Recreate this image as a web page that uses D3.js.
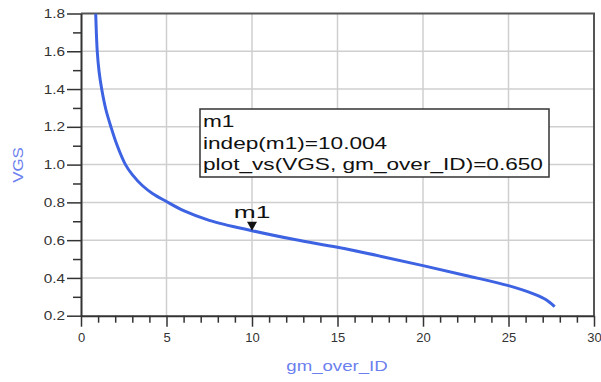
<!DOCTYPE html>
<html>
<head>
<meta charset="utf-8">
<script src="https://cdn.jsdelivr.net/npm/d3@7"></script>
<style>
  body { margin: 0; background: #fff; }
  svg { display: block; font-family: "Liberation Sans", Arial, sans-serif; }
</style>
</head>
<body>
<svg id="chart"></svg>
<script>
// curve data
var gmOverId = [0.86, 0.95, 1.06, 1.21, 1.45, 1.75, 2.1, 2.6, 3.0, 3.6, 4.2, 4.95, 6.0, 7.5, 10.0, 12.5, 15.0, 17.5, 20.0, 22.5, 25.0, 26.5, 27.2, 27.7];
var vgs = [1.80, 1.60, 1.49, 1.40, 1.293, 1.20, 1.105, 1.00, 0.947, 0.888, 0.846, 0.807, 0.756, 0.705, 0.650, 0.603, 0.562, 0.515, 0.465, 0.413, 0.359, 0.314, 0.284, 0.248];
var xTicks = [0, 5, 10, 15, 20, 25, 30];
var yTicks = [0.2, 0.4, 0.6, 0.8, 1.0, 1.2, 1.4, 1.6, 1.8];
var markerX = 10.0, markerY = 0.650;
var markerLines = ["m1", "indep(m1)=10.004", "plot_vs(VGS, gm_over_ID)=0.650"];

var W = 601, H = 382;
var pLeft = 81, pRight = 594, pTop = 13.5, pBottom = 315.7;

var svg = d3.select('#chart').attr('width', W).attr('height', H);

var x = d3.scaleLinear().domain([0, 30]).range([pLeft, pRight]);
var y = d3.scaleLinear().domain([0.2, 1.8]).range([pBottom, pTop]);

// stretch text horizontally like the original screenshot
function stretch(sel, k) {
  sel.each(function() {
    var w = this.getComputedTextLength();
    this.setAttribute('textLength', w * k);
    this.setAttribute('lengthAdjust', 'spacingAndGlyphs');
  });
}

// grid
svg.append('g').selectAll('line').data(xTicks.slice(1, -1)).join('line')
  .attr('x1', d => x(d)).attr('x2', d => x(d)).attr('y1', pTop).attr('y2', pBottom)
  .attr('stroke', '#cfcfcf').attr('stroke-width', 1.5);
svg.append('g').selectAll('line').data(yTicks.slice(1, -1)).join('line')
  .attr('y1', d => y(d)).attr('y2', d => y(d)).attr('x1', pLeft).attr('x2', pRight)
  .attr('stroke', '#cfcfcf').attr('stroke-width', 1.5);

// top / right frame
svg.append('path')
  .attr('d', 'M' + pLeft + ',' + pTop + 'H' + pRight + 'V' + pBottom)
  .attr('fill', 'none').attr('stroke', '#555').attr('stroke-width', 2);

// minor ticks
var xMinor = d3.range(0, 31, 1).filter(v => v % 5 !== 0);
svg.append('g').attr('transform', 'translate(0,' + pBottom + ')')
  .call(d3.axisBottom(x).tickValues(xMinor).tickSize(7).tickFormat(''))
  .call(g => g.select('.domain').remove())
  .selectAll('line').attr('stroke', '#333').attr('stroke-width', 1.5);
var yMinor = d3.range(0.3, 1.8, 0.2);
svg.append('g').attr('transform', 'translate(' + pLeft + ',0)')
  .call(d3.axisLeft(y).tickValues(yMinor).tickSize(8).tickFormat(''))
  .call(g => g.select('.domain').remove())
  .selectAll('line').attr('stroke', '#333').attr('stroke-width', 1.5);

// major axes
var gx = svg.append('g').attr('transform', 'translate(0,' + pBottom + ')')
  .call(d3.axisBottom(x).tickValues(xTicks).tickSize(11).tickSizeOuter(0).tickPadding(6).tickFormat(d3.format('d')));
gx.attr('font-size', 13).attr('font-family', 'Liberation Sans, Arial, sans-serif');
gx.select('.domain').attr('stroke', '#333').attr('stroke-width', 2);
gx.selectAll('line').attr('stroke', '#333').attr('stroke-width', 1.5);
gx.selectAll('text').attr('fill', '#333');

var gy = svg.append('g').attr('transform', 'translate(' + pLeft + ',0)')
  .call(d3.axisLeft(y).tickValues(yTicks).tickSize(14).tickSizeOuter(0).tickPadding(2).tickFormat(d3.format('.1f')));
gy.attr('font-size', 13).attr('font-family', 'Liberation Sans, Arial, sans-serif');
gy.select('.domain').attr('stroke', '#333').attr('stroke-width', 2);
gy.selectAll('line').attr('stroke', '#333').attr('stroke-width', 1.5);
gy.selectAll('text').attr('fill', '#333').call(stretch, 1.18);

// axis titles
svg.append('text').attr('x', 337).attr('y', 371).attr('text-anchor', 'middle')
  .attr('font-size', 14).attr('fill', '#6b80ee').text('gm_over_ID').call(stretch, 1.33);
svg.append('text').attr('transform', 'translate(23,165) rotate(-90)').attr('text-anchor', 'middle')
  .attr('font-size', 15).attr('fill', '#6b80ee').text('VGS').call(stretch, 1.12);

// curve
var pts = gmOverId.map((g, i) => [g, vgs[i]]);
svg.append('clipPath').attr('id', 'clip').append('rect')
  .attr('x', pLeft).attr('y', pTop).attr('width', pRight - pLeft).attr('height', pBottom - pTop);
svg.append('path').datum(pts)
  .attr('clip-path', 'url(#clip)')
  .attr('fill', 'none').attr('stroke', '#3d63e3').attr('stroke-width', 3)
  .attr('d', d3.line().x(d => x(d[0])).y(d => y(d[1])).curve(d3.curveCatmullRom.alpha(0.5)));

// marker
var mx = x(markerX), my = y(markerY);
svg.append('path')
  .attr('d', 'M' + (mx - 5) + ',' + (my - 9) + 'H' + (mx + 5) + 'L' + mx + ',' + my + 'Z')
  .attr('fill', '#111');
svg.append('text').attr('x', mx).attr('y', my - 13).attr('text-anchor', 'middle')
  .attr('font-size', 17).attr('fill', '#111').text('m1').call(stretch, 1.55);

// marker readout box
svg.append('rect').attr('x', 200).attr('y', 109).attr('width', 349).attr('height', 68)
  .attr('fill', '#fff').attr('stroke', '#333').attr('stroke-width', 1.5);
svg.append('g').selectAll('text').data(markerLines).join('text')
  .attr('x', 203).attr('y', (d, i) => 127 + i * 21.6)
  .attr('font-size', 17).attr('fill', '#111').text(d => d)
  .call(stretch, 1.33);
</script>
</body>
</html>
